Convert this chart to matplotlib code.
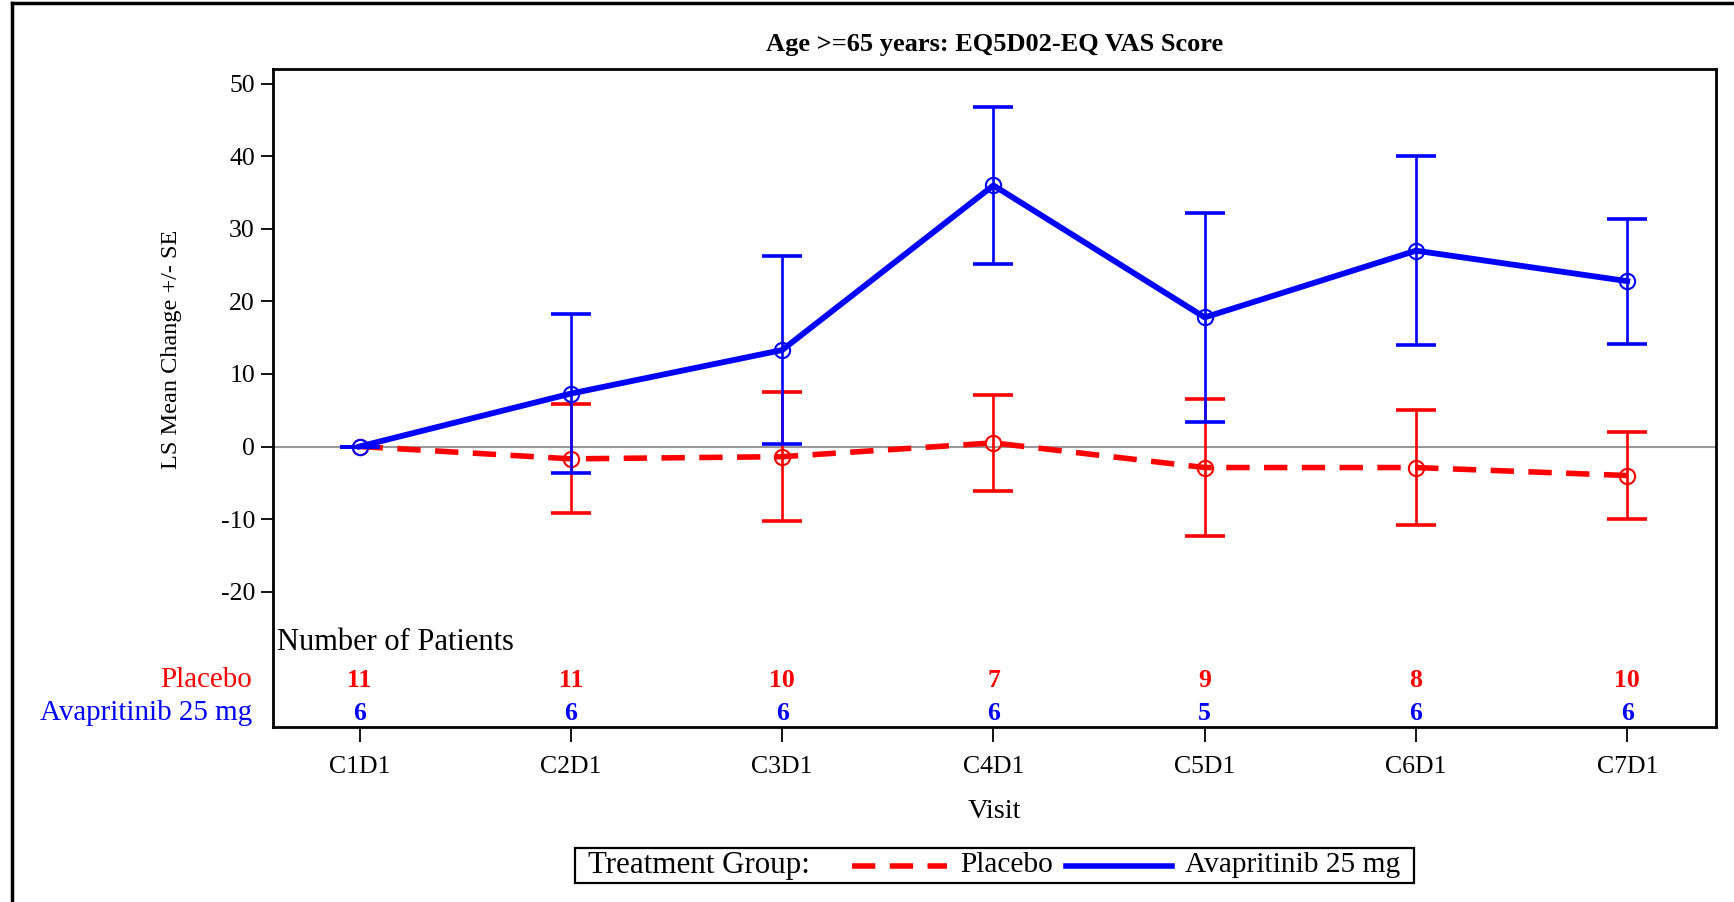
import matplotlib
matplotlib.use("Agg")
import matplotlib.pyplot as plt
from matplotlib.lines import Line2D
from matplotlib.offsetbox import AnchoredOffsetbox, HPacker, TextArea, DrawingArea
import matplotlib.transforms as mtransforms

plt.rcParams["font.family"] = ["Liberation Serif", "DejaVu Serif"]
plt.rcParams["axes.unicode_minus"] = False

visits = ["C1D1", "C2D1", "C3D1", "C4D1", "C5D1", "C6D1", "C7D1"]

placebo_mean = [0.0, -1.7, -1.4, 0.5, -2.9, -2.9, -4.0]
placebo_se = [0.0, 7.5, 8.9, 6.6, 9.5, 7.9, 6.0]
placebo_n = [11, 11, 10, 7, 9, 8, 10]

ava_mean = [0.0, 7.3, 13.3, 36.0, 17.8, 27.0, 22.8]
ava_se = [0.0, 11.0, 12.9, 10.8, 14.4, 13.0, 8.6]
ava_n = [6, 6, 6, 6, 5, 6, 6]

groups = ["Placebo", "Avapritinib 25 mg"]
colors = ["#ff0000", "#0000ff"]

W, H = 1734, 902
fig = plt.figure(figsize=(W / 100, H / 100), dpi=100)
ax = fig.add_axes([273 / W, 1 - 726.5 / H, (1716 - 273) / W, (726.5 - 68.6) / H])

x = list(range(len(visits)))

# reference line at zero
ax.axhline(0, color="#999999", lw=1.5, zorder=1)

# Placebo: dashed line with SE bars
ax.errorbar(x, placebo_mean, yerr=placebo_se, color=colors[0], ecolor=colors[0],
            elinewidth=1.9, capsize=14.5, capthick=2.6, fmt="none", zorder=2)
ax.plot(x, placebo_mean, color=colors[0], lw=4, ls=(0, (4.2, 2.6)),
        marker="o", ms=11, mfc="none", mec=colors[0], mew=1.5, zorder=3)

# Avapritinib: solid line with SE bars
ax.errorbar(x, ava_mean, yerr=ava_se, color=colors[1], ecolor=colors[1],
            elinewidth=1.9, capsize=14.5, capthick=2.6, fmt="none", zorder=4)
ax.plot(x, ava_mean, color=colors[1], lw=4.2, ls="-",
        marker="o", ms=11, mfc="none", mec=colors[1], mew=1.5, zorder=5)

ax.set_xlim(-0.41, 6.42)
ax.set_ylim(-38.6, 52.1)
ax.set_yticks([-20, -10, 0, 10, 20, 30, 40, 50])
ax.set_xticks(x)
ax.set_xticklabels(visits)
ax.tick_params(axis="both", direction="out", labelsize=18.5, width=1.3, color="black")
ax.tick_params(axis="y", length=9, pad=4)
ax.tick_params(axis="x", length=11, pad=10)
for s in ax.spines.values():
    s.set_linewidth(2.0)

ax.set_title("Age >=65 years: EQ5D02-EQ VAS Score", fontsize=19, fontweight="bold", pad=13)
fig.text(171 / W, 1 - 349 / H, "LS Mean Change +/- SE", rotation=90,
         ha="center", va="center", fontsize=17.5)
fig.text(994.5 / W, 1 - 811.5 / H, "Visit", ha="center", va="center", fontsize=20.5)

# patient counts table inside the plot area
trans = mtransforms.blended_transform_factory(ax.transData, ax.transAxes)
ax.text(0.003, 0.128, "Number of Patients", transform=ax.transAxes,
        ha="left", va="center", fontsize=22)
row_y = [0.0706, 0.0202]
for counts, col, yy, name in zip([placebo_n, ava_n], colors, row_y, groups):
    for xi, n in zip(x, counts):
        ax.text(xi, yy, str(n), transform=trans, ha="center", va="center",
                fontsize=18.5, fontweight="bold", color=col)
    fig.text(252 / W, ax.transAxes.transform((0, yy))[1] / H, name, ha="right",
             va="center", fontsize=20.9, color=col)

# legend row below the axis
title_box = TextArea("Treatment Group:", textprops=dict(fontsize=22.3))
da_p = DrawingArea(68, 14)
da_p.add_artist(Line2D([0, 68], [7, 7], color=colors[0], lw=4, ls=(0, (4.2, 2.6))))
txt_p = TextArea("Placebo", textprops=dict(fontsize=21.2))
da_a = DrawingArea(76, 14)
da_a.add_artist(Line2D([0, 76], [7, 7], color=colors[1], lw=4, ls="-"))
txt_a = TextArea("Avapritinib 25 mg", textprops=dict(fontsize=21.2))
entries = HPacker(children=[da_p, txt_p, da_a, txt_a], align="center", pad=0, sep=9.5)
pack = HPacker(children=[HPacker(children=[DrawingArea(1, 2), title_box], pad=0, sep=6),
                         HPacker(children=[entries, DrawingArea(1, 2)], pad=0, sep=7)],
               align="center", pad=0, sep=31)
anch = AnchoredOffsetbox(loc="center", child=pack, pad=0.2, borderpad=0, frameon=True,
                         bbox_to_anchor=(994.5 / W, 1 - 865.5 / H), bbox_transform=fig.transFigure)
anch.patch.set_edgecolor("black")
anch.patch.set_linewidth(1.6)
anch.patch.set_boxstyle("square", pad=0)
fig.add_artist(anch)

# outer frame edges
fig.add_artist(Line2D([12 / W, 1], [1 - 3 / H, 1 - 3 / H], color="black", lw=2.5, transform=fig.transFigure))
fig.add_artist(Line2D([12 / W, 12 / W], [0, 1 - 3 / H], color="black", lw=2.5, transform=fig.transFigure))

fig.savefig("out.png", dpi=100, facecolor="white")
